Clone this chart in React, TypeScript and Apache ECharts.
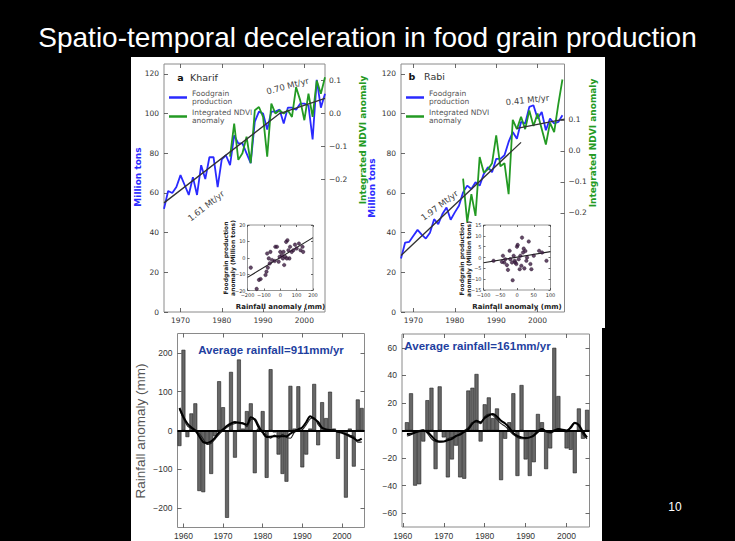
import React, { useEffect, useRef } from 'react';
import * as echarts from 'echarts';

// ---------------- Panel a : Kharif ----------------
const kharifYears = [1966, 1967, 1968, 1969, 1970, 1971, 1972, 1973, 1974, 1975, 1976, 1977, 1978, 1979, 1980, 1981, 1982, 1983, 1984, 1985, 1986, 1987, 1988, 1989, 1990, 1991, 1992, 1993, 1994, 1995, 1996, 1997, 1998, 1999, 2000, 2001, 2002, 2003, 2004, 2005];
const kharifProduction = [52, 61, 60, 63, 69, 64, 59, 68, 59, 74, 67, 78, 78, 63, 77, 79, 74, 89, 85, 85, 80, 75, 96, 101, 100, 92, 101, 101, 102, 95, 103, 103, 102, 105, 105, 104, 87, 117, 103, 110];
const kharifNdviYears = [1982, 1983, 1984, 1985, 1986, 1987, 1988, 1989, 1990, 1991, 1992, 1993, 1994, 1995, 1996, 1997, 1998, 1999, 2000, 2001, 2002, 2003, 2004, 2005];
const kharifNdvi = [-0.13, -0.03, -0.14, -0.12, -0.07, -0.15, 0.01, 0.02, -0.01, -0.13, 0.03, 0.0, 0.01, 0.0, 0.01, -0.01, 0.08, 0.04, -0.02, 0.06, -0.01, 0.1, 0.06, 0.11];
const kharifTrendYears = [1966, 1994, 2005];
const kharifTrendValues = [55, 100, 107.7];
const kharifInsetRain = [-180, -130, -120, -144, -80, -76, -70, -64, -90, -84, -60, -30, -20, -34, -10, 0, 10, 20, 16, 30, 36, 44, 50, 56, 60, 70, 80, 90, 100, 114, 124, 136, 140, 40, 24, -4, -50];
const kharifInsetProd = [-6, -13.5, -13, -19, 2.6, -6, -0.4, -3.4, -10.5, -8.5, 3.6, 6.7, 6.7, -2, -2.4, 3.6, 1.6, 3.6, -0.4, 0.6, 9.7, 10.7, 4.6, -0.4, 6.7, 3.6, 4.6, 8, 5.7, 8.7, 4.6, 6.7, 3.6, -0.4, -4.4, 0.6, -1.4];
const kharifFitX = [-200, 200];
const kharifFitY = [-12, 12.3];

// ---------------- Panel b : Rabi ----------------
const rabiYears = [1967, 1968, 1969, 1970, 1971, 1972, 1973, 1974, 1975, 1976, 1977, 1978, 1979, 1980, 1981, 1982, 1983, 1984, 1985, 1986, 1987, 1988, 1989, 1990, 1991, 1992, 1993, 1994, 1995, 1996, 1997, 1998, 1999, 2000, 2001, 2002, 2003, 2004, 2005, 2006];
const rabiProduction = [27, 35, 35.4, 38.4, 41.4, 39, 37, 40, 46.8, 44.3, 49.4, 52.7, 46.5, 50.2, 53.6, 60.3, 63.7, 62, 65.4, 63.7, 69.6, 73, 70.5, 77.2, 77.2, 79, 85.7, 90.7, 87.3, 95.8, 95, 103.4, 104.2, 97.5, 100.8, 91.6, 97.5, 95, 95.8, 99.2];
const rabiNdviYears = [1982, 1983, 1984, 1985, 1986, 1987, 1988, 1989, 1990, 1991, 1992, 1993, 1994, 1995, 1996, 1997, 1998, 1999, 2000, 2001, 2002, 2003, 2004, 2005, 2006];
const rabiNdvi = [-0.09, -0.23, -0.14, -0.21, -0.02, -0.07, -0.06, -0.04, 0.05, -0.05, -0.04, -0.14, 0.1, 0.07, 0.11, 0.07, 0.13, 0.08, 0.12, 0.07, 0.02, 0.09, 0.06, 0.15, 0.23];
const rabiTrendEarlyYears = [1967, 1996];
const rabiTrendEarlyValues = [28.5, 85.5];
const rabiTrendLateYears = [1995, 2006.5];
const rabiTrendLateValues = [92.5, 97.2];
const rabiInsetRain = [-70, -42, -38, -30, -27, -22, -20, -15, -13, -10, -7, -5, -2, 0, 2, 5, 8, 10, 13, 15, 18, 20, 22, 25, 28, 30, 35, 40, 43, 50, 66, 75, 88, -45, -35];
const rabiInsetProd = [-1.5, 0.8, -2.3, -3.5, -5.7, 3.1, -0.8, -2.3, -10.5, 0.8, -1.5, -2.3, -3, 5, 5.8, -0.8, -5.4, 0.8, -3.8, 9.2, 2.3, 4.1, -5, 3, -1.5, 0, 7.4, -3, -5.4, 0.8, 3.1, 2.3, -1.5, -2, -0.8];
const rabiFitX = [-100, 100];
const rabiFitY = [-2.4, 2.7];

// ---------------- Bottom: rainfall anomalies ----------------
const kharifRainYears = [1959, 1960, 1961, 1962, 1963, 1964, 1965, 1966, 1967, 1968, 1969, 1970, 1971, 1972, 1973, 1974, 1975, 1976, 1977, 1978, 1979, 1980, 1981, 1982, 1983, 1984, 1985, 1986, 1987, 1988, 1989, 1990, 1991, 1992, 1993, 1994, 1995, 1996, 1997, 1998, 1999, 2000, 2001, 2002, 2003, 2004, 2005];
const kharifRainAnomaly = [-40, 208, -17, 44, 70, -156, -159, -33, -112, -15, 127, 60, -225, 151, -70, 183, 5, 50, 70, -110, 5, 50, -122, 158, -5, -62, -112, -132, 115, 5, 114, -95, -62, 5, 120, -38, 73, 32, 100, 5, -73, -5, -173, 5, -93, 80, 58];
const kharifRainSmoothA = [58, 35, 18, 8, 0, -15, -30, -32, -28, -18, -5, 3, 12, 18, 22, 20, 18, 15, 34, 28, 8, -5, -17, -16, -15, -15, -15, -15, -8, -2, 3, 8, 22, 37, 30, 22, 7, 3, 1, 0, -3, -6, -10, -15, -20, -26, -21];
const kharifRainSmoothB = [55, 30, 12, 5, -2, -8, -22, -36, -33, -22, -10, 0, 8, 14, 18, 21, 20, 10, 28, 30, 14, -4, -12, -20, -12, -20, -10, -18, -20, -5, 0, 2, 15, 30, 33, 15, 5, 3, -2, 2, -5, -5, -8, -12, -15, -30, -30];

const rabiRainYears = [1961, 1962, 1963, 1964, 1965, 1966, 1967, 1968, 1969, 1970, 1971, 1972, 1973, 1974, 1975, 1976, 1977, 1978, 1979, 1980, 1981, 1982, 1983, 1984, 1985, 1986, 1987, 1988, 1989, 1990, 1991, 1992, 1993, 1994, 1995, 1996, 1997, 1998, 1999, 2000, 2001, 2002, 2003, 2004, 2005];
const rabiRainAnomaly = [6, 27, -40, -39, -8, 22, 31, -28, 32, -5, -34, -21, -11, -34, -35, 29, 31, 41, -8, 19, 24, 9, 16, -36, -6, 6, 27, -33, 33, -21, -33, -23, 12, 6, -28, -13, 60, 25, 1, -13, -14, -31, 16, -6, 15];
const rabiRainSmoothA = [-2.5, -2.4, -1.5, -0.5, 0, -1, -4, -7, -8, -8, -7, -6, -4, -3, -1, 1, 5, 7, 6, 9, 11, 12, 10, 7, 5, 2, -2, -4, -5, -5.4, -5, -3.7, -1, 1, -0.5, -1, 0, 1, 0.5, 0, 2, 5.4, 4, -1, -5];
const rabiRainSmoothB = [-4, -3, -1, 0, 0.5, -2, -6, -8, -8.5, -8, -6, -5, -4, -2, 0, 2, 6, 6, 5, 10, 12, 11, 8, 5, 3, 0, -3, -5, -6, -6, -5, -3, 0, 1.5, -1, -2, -0.5, 1.5, 0, -1, 3, 6, 3, -3, -6];

// ---------------- Tick values ----------------
const decadeTicks = [1970, 1980, 1990, 2000];
const bottomDecadeTicks = [1960, 1970, 1980, 1990, 2000];
const productionTicks = [0, 20, 40, 60, 80, 100, 120];
const ndviTicks = [-0.2, -0.1, 0, 0.1];
const kharifInsetXTicks = [-200, -100, 0, 100, 200];
const kharifInsetYTicks = [-20, -10, 0, 10, 20];
const rabiInsetXTicks = [-100, -50, 0, 50, 100];
const rabiInsetYTicks = [-15, -10, -5, 0, 5, 10, 15];
const kharifRainTicks = [-200, -100, 0, 100, 200];
const rabiRainTicks = [-60, -40, -20, 0, 20, 40, 60];

const BLUE = '#2a2aff';
const GREEN = '#239a23';
const DV = 'DejaVu Sans';
const SANS = '"Liberation Sans", Arial, sans-serif';
const PROD_NAME = 'Foodgrain\nproduction';
const NDVI_NAME = 'Integrated NDVI\nanomaly';

const zip = (xs: number[], ys: number[]) => xs.map((x, i) => [x, ys[i]]);
const fmtNum = (v: number) => String(v).replace('-', '\u2212');
const fmt1 = (v: number) => (Math.abs(v) < 1e-9 ? 0 : v).toFixed(1).replace('-', '\u2212');

function axis(gridIndex: number, min: number, max: number, ticks: number[], o: any = {}) {
  const a: any = {
    type: 'value',
    gridIndex,
    min,
    max,
    splitLine: { show: false },
    axisLine: { show: false, onZero: false },
    axisTick: {
      show: true,
      inside: true,
      length: o.tickLen ?? 4,
      customValues: ticks,
      lineStyle: { color: '#444', width: 0.8 },
    },
    axisLabel:
      o.labels === false
        ? { show: false }
        : {
            show: true,
            customValues: ticks,
            margin: o.margin ?? 4,
            fontSize: o.fontSize ?? 7.5,
            color: '#333',
            fontFamily: o.font ?? DV,
            formatter: o.fmt ?? fmtNum,
          },
  };
  if (o.position) a.position = o.position;
  return a;
}

function txt(x: number, y: number, text: string, o: any = {}) {
  return {
    type: 'text',
    x,
    y,
    rotation: o.rotation ?? 0,
    z: 100,
    silent: true,
    style: {
      text,
      fill: o.color ?? '#333',
      fontSize: o.size ?? 9,
      fontFamily: o.font ?? DV,
      fontWeight: o.weight ?? 'normal',
      lineHeight: o.lineHeight,
      align: o.align ?? 'center',
      verticalAlign: o.valign ?? 'middle',
      textAlign: o.align ?? 'center',
      textVerticalAlign: o.valign ?? 'middle',
    },
  };
}

const deg = (d: number) => (d * Math.PI) / 180;

function buildOption(): any {
  const gridStyle = { show: true, borderColor: '#8a8a8a', borderWidth: 1, backgroundColor: 'transparent' };
  const insetStyle = { show: true, borderColor: '#7a7a7a', borderWidth: 0.8, backgroundColor: '#fff' };

  const grid = [
    { left: 164, top: 64, width: 161, height: 248, ...gridStyle },
    { left: 247.5, top: 225, width: 65.5, height: 65.5, ...insetStyle },
    { left: 401, top: 64, width: 163.5, height: 248, ...gridStyle },
    { left: 483.5, top: 225, width: 67, height: 65, ...insetStyle },
    { left: 177.5, top: 333.5, width: 187, height: 194, ...gridStyle },
    { left: 402, top: 334, width: 187.5, height: 193, ...gridStyle },
  ];

  const xAxis = [
    axis(0, 1966, 2005, decadeTicks, { position: 'bottom', margin: 4 }),
    axis(0, 1966, 2005, decadeTicks, { position: 'top', labels: false }),
    axis(1, -200, 200, kharifInsetXTicks, { position: 'bottom', fontSize: 5, margin: 2, tickLen: 2 }),
    axis(1, -200, 200, kharifInsetXTicks, { position: 'top', labels: false, tickLen: 2 }),
    axis(2, 1967, 2006.5, decadeTicks, { position: 'bottom', margin: 4 }),
    axis(2, 1967, 2006.5, decadeTicks, { position: 'top', labels: false }),
    axis(3, -100, 100, rabiInsetXTicks, { position: 'bottom', fontSize: 5, margin: 2, tickLen: 2 }),
    axis(3, -100, 100, rabiInsetXTicks, { position: 'top', labels: false, tickLen: 2 }),
    axis(4, 1958.5, 2005.7, bottomDecadeTicks, { position: 'bottom', font: SANS, fontSize: 8.5, margin: 4 }),
    axis(4, 1958.5, 2005.7, bottomDecadeTicks, { position: 'top', labels: false }),
    axis(5, 1959.8, 2005.6, bottomDecadeTicks, { position: 'bottom', font: SANS, fontSize: 8.5, margin: 4 }),
    axis(5, 1959.8, 2005.6, bottomDecadeTicks, { position: 'top', labels: false }),
  ];

  const yAxis = [
    axis(0, 0, 125, productionTicks, { position: 'left', margin: 5 }),
    axis(0, -0.6, 0.15, ndviTicks, { position: 'right', margin: 4, fmt: fmt1 }),
    axis(1, -20, 20, kharifInsetYTicks, { position: 'left', fontSize: 5, margin: 2, tickLen: 2 }),
    axis(1, -20, 20, kharifInsetYTicks, { position: 'right', labels: false, tickLen: 2 }),
    axis(2, 0, 125, productionTicks, { position: 'left', margin: 5 }),
    axis(2, -0.52, 0.28, ndviTicks, { position: 'right', margin: 4, fmt: fmt1 }),
    axis(3, -15, 15, rabiInsetYTicks, { position: 'left', fontSize: 5, margin: 2, tickLen: 2 }),
    axis(3, -15, 15, rabiInsetYTicks, { position: 'right', labels: false, tickLen: 2 }),
    axis(4, -250, 250, kharifRainTicks, { position: 'left', font: SANS, fontSize: 8.5, margin: 5 }),
    axis(4, -250, 250, kharifRainTicks, { position: 'right', labels: false }),
    axis(5, -70, 70, rabiRainTicks, { position: 'left', font: SANS, fontSize: 8.5, margin: 5 }),
    axis(5, -70, 70, rabiRainTicks, { position: 'right', labels: false }),
  ];

  const line = (name: string | undefined, xi: number, yi: number, data: number[][], color: string, width: number, extra: any = {}) => ({
    type: 'line',
    name,
    xAxisIndex: xi,
    yAxisIndex: yi,
    data,
    symbol: 'none',
    showSymbol: false,
    lineStyle: { color, width },
    itemStyle: { color },
    silent: true,
    ...extra,
  });

  const scatter = (xi: number, yi: number, data: number[][]) => ({
    type: 'scatter',
    xAxisIndex: xi,
    yAxisIndex: yi,
    data,
    symbolSize: 3.6,
    itemStyle: { color: '#3d1c42', borderColor: '#1a0a1c', borderWidth: 0.4 },
    silent: true,
    z: 3,
  });

  const bars = (xi: number, yi: number, data: number[][], width: number) => ({
    type: 'bar',
    xAxisIndex: xi,
    yAxisIndex: yi,
    data,
    barWidth: width,
    itemStyle: { color: '#676767', borderColor: '#1e1e1e', borderWidth: 0.6 },
    silent: true,
    markLine: {
      silent: true,
      symbol: ['none', 'none'],
      label: { show: false },
      lineStyle: { color: '#000', width: 1.8, type: 'solid' },
      data: [{ yAxis: 0 }],
    },
  });

  const series = [
    // Kharif main
    line(PROD_NAME, 0, 0, zip(kharifYears, kharifProduction), BLUE, 1.8),
    line(NDVI_NAME, 0, 1, zip(kharifNdviYears, kharifNdvi), GREEN, 1.8),
    line(undefined, 0, 0, zip(kharifTrendYears, kharifTrendValues), '#333', 1.3, { z: 4 }),
    // Kharif inset
    line(undefined, 2, 2, zip(kharifFitX, kharifFitY), '#222', 1.1),
    scatter(2, 2, zip(kharifInsetRain, kharifInsetProd)),
    // Rabi main
    line(PROD_NAME, 4, 4, zip(rabiYears, rabiProduction), BLUE, 1.8),
    line(NDVI_NAME, 4, 5, zip(rabiNdviYears, rabiNdvi), GREEN, 1.8),
    line(undefined, 4, 4, zip(rabiTrendEarlyYears, rabiTrendEarlyValues), '#333', 1.3, { z: 4 }),
    line(undefined, 4, 4, zip(rabiTrendLateYears, rabiTrendLateValues), '#333', 1.3, { z: 4 }),
    // Rabi inset
    line(undefined, 6, 6, zip(rabiFitX, rabiFitY), '#222', 1.1),
    scatter(6, 6, zip(rabiInsetRain, rabiInsetProd)),
    // Bottom left
    bars(8, 8, zip(kharifRainYears, kharifRainAnomaly), 3.9),
    line(undefined, 8, 8, zip(kharifRainYears, kharifRainSmoothB), '#222', 1.1, { smooth: 0.3, z: 4 }),
    line(undefined, 8, 8, zip(kharifRainYears, kharifRainSmoothA), '#000', 2, { smooth: 0.3, z: 5 }),
    // Bottom right
    bars(10, 10, zip(rabiRainYears, rabiRainAnomaly), 4),
    line(undefined, 10, 10, zip(rabiRainYears, rabiRainSmoothB), '#222', 1.1, { smooth: 0.3, z: 4 }),
    line(undefined, 10, 10, zip(rabiRainYears, rabiRainSmoothA), '#000', 2, { smooth: 0.3, z: 5 }),
  ];

  const legendBase = {
    orient: 'vertical',
    data: [PROD_NAME, NDVI_NAME],
    icon: 'rect',
    itemWidth: 18,
    itemHeight: 2.5,
    itemGap: 2,
    selectedMode: false,
    padding: 0,
    textStyle: { fontSize: 7.5, lineHeight: 8.5, color: '#555', fontFamily: DV, padding: [0, 0, 0, 0] },
  };

  const legend = [
    { ...legendBase, left: 169, top: 89 },
    { ...legendBase, left: 406, top: 89 },
  ];

  const graphic = {
    elements: [
      { type: 'rect', z: -100, silent: true, shape: { x: 131, y: 57, width: 474, height: 271 }, style: { fill: '#fff' } },
      { type: 'rect', z: -100, silent: true, shape: { x: 131, y: 328, width: 471, height: 213 }, style: { fill: '#fff' } },
      txt(367.5, 37, 'Spatio-temporal deceleration in food grain production', { color: '#fff', size: 28, font: SANS }),
      txt(675, 507, '10', { color: '#fff', size: 12, font: SANS }),

      // panel a labels
      txt(180.5, 77, 'a', { color: '#111', size: 9.5, weight: 'bold' }),
      txt(190, 77, 'Kharif', { color: '#333', size: 9.5, align: 'left' }),
      txt(138, 177, 'Million tons', { color: BLUE, size: 9, weight: 'bold', rotation: deg(90) }),
      txt(363, 140, 'Integrated NDVI anomaly', { color: GREEN, size: 9, weight: 'bold', rotation: deg(90) }),
      txt(206, 206, '1.61 Mt/yr', { color: '#444', size: 8.5, rotation: deg(38) }),
      txt(287.5, 86, '0.70 Mt/yr', { color: '#444', size: 8.5, rotation: deg(15) }),
      txt(280.5, 307, 'Rainfall anomaly (mm)', { color: '#222', size: 7, weight: 'bold' }),
      txt(228.5, 258, 'Foodgrain production\nanomaly (Million tons)', { color: '#222', size: 6, weight: 'bold', lineHeight: 7, rotation: deg(90) }),

      // panel b labels
      txt(412, 76, 'b', { color: '#111', size: 9.5, weight: 'bold' }),
      txt(424, 76, 'Rabi', { color: '#333', size: 9.5, align: 'left' }),
      txt(371.5, 188, 'Million tons', { color: BLUE, size: 9, weight: 'bold', rotation: deg(90) }),
      txt(593, 143, 'Integrated NDVI anomaly', { color: GREEN, size: 9, weight: 'bold', rotation: deg(90) }),
      txt(439.5, 205.5, '1.97 Mt/yr', { color: '#444', size: 8.5, rotation: deg(37) }),
      txt(527.5, 100, '0.41 Mt/yr', { color: '#444', size: 8.5, rotation: deg(6) }),
      txt(517, 307, 'Rainfall anomaly (mm)', { color: '#222', size: 7, weight: 'bold' }),
      txt(465, 259, 'Foodgrain production\nanomaly (Million tons)', { color: '#222', size: 6, weight: 'bold', lineHeight: 7, rotation: deg(90) }),

      // bottom labels
      txt(140, 431, 'Rainfall anomaly (mm)', { color: '#555', size: 13.5, font: SANS, rotation: deg(90) }),
      txt(271, 350, 'Average rainfall=911mm/yr', { color: '#1f3f9f', size: 11.5, font: SANS, weight: 'bold' }),
      txt(477.5, 346, 'Average rainfall=161mm/yr', { color: '#1f3f9f', size: 11.5, font: SANS, weight: 'bold' }),
    ],
  };

  return {
    animation: false,
    backgroundColor: '#000',
    grid,
    xAxis,
    yAxis,
    legend,
    series,
    graphic,
  };
}

export default function App() {
  const ref = useRef<HTMLDivElement>(null);
  useEffect(() => {
    if (!ref.current) return;
    const chart = echarts.init(ref.current, null, { renderer: 'svg' });
    chart.setOption(buildOption());
    return () => {
      chart.dispose();
    };
  }, []);
  return <div ref={ref} style={{ position: 'fixed', left: 0, top: 0, width: 735, height: 541 }} />;
}
